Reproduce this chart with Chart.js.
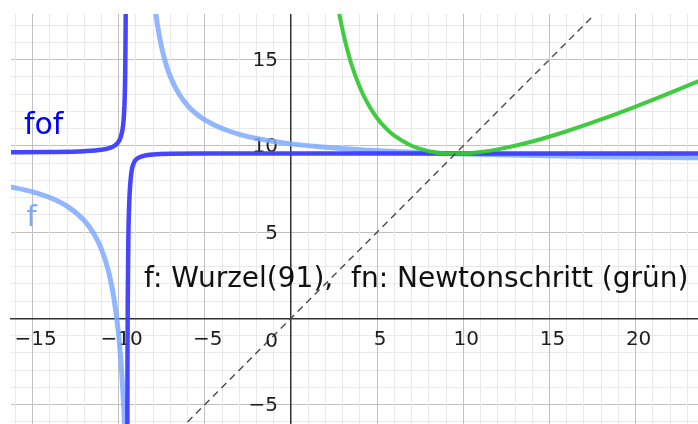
<!DOCTYPE html>
<html>
<head>
<meta charset="utf-8">
<script src="https://cdn.jsdelivr.net/npm/chart.js@4/dist/chart.umd.min.js"></script>
<style>
html,body{margin:0;padding:0;background:#fff;overflow:hidden}
#wrap{width:698px;height:424px;position:relative}
</style>
</head>
<body>
<div id="wrap"><canvas id="c" width="698" height="424"></canvas></div>
<script>
// ---- data ----
// f (light blue), left branch
const fLeftX = [-16.5, -15, -14, -13, -12, -11.5, -11.25, -11, -10.75, -10.5, -10.25, -10, -9.9, -9.8, -9.7, -9.6];
const fLeftY = [7.667, 7.333, 7.0, 6.5, 5.667, 5.0, 4.556, 4.0, 3.286, 2.333, 1.0, -1.0, -2.111, -3.5, -5.286, -7.667];
// f (light blue), right branch
const fRightX = [-7.9, -7.75, -7.5, -7.25, -7, -6.5, -6, -5.5, -5, -4, -3, -2, -1, 0, 2, 4, 6, 8, 10, 12, 15, 18, 21, 24];
const fRightY = [18.09, 17.0, 15.667, 14.714, 14.0, 13.0, 12.333, 11.857, 11.5, 11.0, 10.667, 10.429, 10.25, 10.111, 9.909, 9.769, 9.667, 9.588, 9.526, 9.476, 9.417, 9.37, 9.333, 9.303];
// fof (dark blue), left branch
const fofLeftX = [-16.5, -14, -12, -11, -10.5, -10.2, -10, -9.9, -9.8, -9.75, -9.7, -9.65, -9.62, -9.6, -9.59];
const fofLeftY = [9.62, 9.64, 9.69, 9.77, 9.88, 10.034, 10.25, 10.452, 10.818, 11.143, 11.692, 12.824, 14.345, 16.5, 18.516];
// fof (dark blue), right branch
const fofRightX = [-9.5, -9.49, -9.47, -9.44, -9.38, -9.32, -9.24, -9.1, -8.9, -8.5, -8, -7, -5, 0, 5, 10, 16, 24];
const fofRightY = [-10.3, -2.5, 1.5, 4.6, 6.9, 7.9, 8.6, 9.05, 9.28, 9.43, 9.5, 9.54, 9.55, 9.555, 9.56, 9.56, 9.56, 9.56];
// fn Newton step (green)
const fnX = [2.7, 2.8, 3, 3.25, 3.5, 4, 4.5, 5, 5.5, 6, 7, 8, 9, 10, 11, 12, 14, 16, 18, 20, 22, 24];
const fnY = [18.202, 17.65, 16.667, 15.625, 14.75, 13.375, 12.361, 11.6, 11.023, 10.583, 10.0, 9.688, 9.556, 9.55, 9.636, 9.792, 10.25, 10.844, 11.528, 12.275, 13.068, 13.896];
// y = x (dashed)
const diagX = [-6.5, 17.5];
const diagY = [-6.5, 17.5];

// grid and tick labels
const xGridValues = [-16,-15,-14,-13,-12,-11,-10,-9,-8,-7,-6,-5,-4,-3,-2,-1,0,1,2,3,4,5,6,7,8,9,10,11,12,13,14,15,16,17,18,19,20,21,22,23];
const yGridValues = [-6,-5,-4,-3,-2,-1,0,1,2,3,4,5,6,7,8,9,10,11,12,13,14,15,16,17];
const xTickValues = [-15, -10, -5, 5, 10, 15, 20];
const xTickLabels = ["\u221215", "\u221210", "\u22125", "5", "10", "15", "20"];
const yTickValues = [-5, 5, 10, 15];
const yTickLabels = ["\u22125", "5", "10", "15"];
const originLabel = "0";
const textLabels = ["fof", "f", "f: Wurzel(91),  fn: Newtonschritt (gr\u00fcn)"];

// ---- presentation ----
const AXIS = '#333333', MAJOR = '#c0c0c0', MINOR = '#e9e9e9';
const tv = c => (c && c.tick) ? c.tick.value : 1;
const xGridColor = c => tv(c) === 0 ? AXIS : (tv(c) % 5 === 0 ? MAJOR : MINOR);
const xGridWidth = c => tv(c) === 0 ? 1.5 : 1;
const yGridColor = c => tv(c) % 5 === 0 ? MAJOR : MINOR;
const tickFont = {family: 'DejaVu Sans', size: 20};
const annotations = [
  {text: textLabels[0], x: -15.5, y: 10.7, color: '#0000ff', font: '30px "DejaVu Sans"', align: 'left'},
  {text: textLabels[1], x: -15.35, y: 5.35, color: '#80aaff', font: '29px "DejaVu Sans"', align: 'left'},
  {text: textLabels[2], x: -8.53, y: 1.79, color: '#111111', font: '28px "DejaVu Sans"', align: 'left'},
  {text: originLabel, x: -0.755, y: -1.67, color: '#1e1e1e', font: '20px "DejaVu Sans"', align: 'right'}
];

const pts = (xs, ys) => xs.map((x, i) => ({x: x, y: ys[i]}));
const line = {showLine: true, pointRadius: 0, pointHoverRadius: 0, fill: false,
  cubicInterpolationMode: 'monotone', clip: 0, borderJoinStyle: 'round', borderCapStyle: 'round'};

const textPlugin = {
  id: 'texts',
  afterDatasetsDraw(chart) {
    const ctx = chart.ctx, sx = chart.scales.x, sy = chart.scales.y;
    ctx.save();
    ctx.textBaseline = 'alphabetic';
    for (const a of annotations) {
      ctx.font = a.font;
      ctx.fillStyle = a.color;
      ctx.textAlign = a.align;
      ctx.fillText(a.text, sx.getPixelForValue(a.x), sy.getPixelForValue(a.y));
    }
    ctx.restore();
  }
};

const zeroPad = s => { s.paddingLeft = 0; s.paddingRight = 0; s.paddingTop = 0; s.paddingBottom = 0; };

new Chart(document.getElementById('c'), {
  type: 'scatter',
  data: {
    datasets: [
      Object.assign({}, line, {label: 'y = x', data: pts(diagX, diagY), borderColor: '#4a4a4a', borderWidth: 1.4, borderDash: [7, 5], cubicInterpolationMode: 'default', tension: 0, borderCapStyle: 'butt'}),
      Object.assign({}, line, {label: 'fn', data: pts(fnX, fnY), borderColor: 'rgba(55,200,55,0.95)', borderWidth: 4}),
      Object.assign({}, line, {label: 'fof', data: pts(fofLeftX, fofLeftY), borderColor: 'rgba(60,60,255,0.95)', borderWidth: 4.5}),
      Object.assign({}, line, {label: 'fof', data: pts(fofRightX, fofRightY), borderColor: 'rgba(60,60,255,0.95)', borderWidth: 4.5}),
      Object.assign({}, line, {label: 'f', data: pts(fLeftX, fLeftY), borderColor: 'rgba(125,170,255,0.85)', borderWidth: 5}),
      Object.assign({}, line, {label: 'f', data: pts(fRightX, fRightY), borderColor: 'rgba(125,170,255,0.85)', borderWidth: 5})
    ]
  },
  options: {
    responsive: false,
    animation: false,
    events: [],
    layout: {padding: {left: 11, top: 14, right: 0, bottom: 0}},
    elements: {line: {capBezierPoints: false}},
    plugins: {legend: {display: false}, tooltip: {enabled: false}},
    scales: {
      x: {
        type: 'linear', min: -16.25, max: 23.62, position: {y: 0},
        afterBuildTicks: s => { s.ticks = xGridValues.map(v => ({value: v})); },
        afterFit: zeroPad,
        grid: {color: xGridColor, lineWidth: xGridWidth, drawTicks: false, z: -1},
        border: {display: true, color: AXIS, width: 1.5, z: 0},
        ticks: {
          autoSkip: false, maxRotation: 0, minRotation: 0, padding: 10, labelOffset: 3,
          font: tickFont, color: '#1e1e1e',
          callback: v => { const i = xTickValues.indexOf(v); return i < 0 ? '' : xTickLabels[i]; }
        }
      },
      y: {
        type: 'linear', min: -6.128, max: 17.64, position: {x: -0.755},
        afterBuildTicks: s => { s.ticks = yGridValues.map(v => ({value: v})); },
        afterFit: zeroPad,
        grid: {color: yGridColor, lineWidth: 1, drawTicks: false, z: -2},
        border: {display: false},
        ticks: {
          autoSkip: false, padding: 0, labelOffset: 1.5,
          font: tickFont, color: '#1e1e1e',
          callback: v => { const i = yTickValues.indexOf(v); return i < 0 ? '' : yTickLabels[i]; }
        }
      }
    }
  },
  plugins: [textPlugin]
});
</script>
</body>
</html>
